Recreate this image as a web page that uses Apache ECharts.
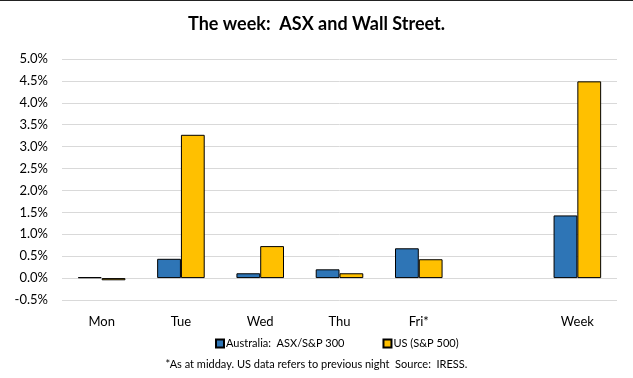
<!DOCTYPE html>
<html lang="en">
<head>
    <meta charset="UTF-8" />
    <title>The week: ASX and Wall Street</title>
    <script src="https://cdn.jsdelivr.net/npm/echarts@6/dist/echarts.min.js"></script>
    <style>
        html, body { margin: 0; padding: 0; background: #fff; }
    </style>
</head>
<body>
    <div id="chart" style="width: 633px; height: 378px;"></div>

    <script>
        // categories (blank slot between Fri* and Week)
        var days = ["Mon", "Tue", "Wed", "Thu", "Fri*", "", "Week"];
        // daily % change
        var asx = [0.02, 0.44, 0.11, 0.2, 0.68, null, 1.43];
        var us = [-0.05, 3.27, 0.73, 0.11, 0.43, null, 4.49];
        var yTicks = [-0.5, 5.0, 0.5];

        var font = "Lato, 'Liberation Sans', sans-serif";
        var chart = echarts.init(document.getElementById("chart"));

        var option = {
            animation: false,
            textStyle: { fontFamily: font },
            title: {
                text: "The week:  ASX and Wall Street.",
                left: "center",
                top: 10,
                textStyle: { fontSize: 18, fontWeight: "bold", color: "#000", fontFamily: font }
            },
            grid: { left: 62, right: 16, top: 59, bottom: 78 },
            legend: {
                bottom: 24,
                left: 210,
                icon: "rect",
                itemWidth: 8,
                itemHeight: 8,
                itemGap: 38,
                textStyle: { fontSize: 11, color: "#000", padding: [0, 0, 0, -3] },
                data: ["Australia:  ASX/S&P 300", "US (S&P 500)"]
            },
            graphic: [
                {
                    type: "text",
                    left: "center",
                    top: 359,
                    style: {
                        text: "*As at midday. US data refers to previous night  Source:  IRESS.",
                        fontSize: 11,
                        fill: "#000",
                        fontFamily: font
                    }
                },
                {
                    type: "rect",
                    shape: { x: 0, y: 0, width: 633, height: 1 },
                    style: { fill: "#222" }
                }
            ],
            xAxis: {
                type: "category",
                data: days,
                axisLine: { show: false },
                axisTick: { show: false },
                axisLabel: { fontSize: 13, color: "#000", margin: 15 }
            },
            yAxis: {
                type: "value",
                min: yTicks[0],
                max: yTicks[1],
                interval: yTicks[2],
                axisLine: { show: false },
                axisTick: { show: false },
                splitLine: { lineStyle: { color: "#d9d9d9", width: 1 } },
                axisLabel: {
                    fontSize: 13,
                    color: "#000",
                    margin: 14,
                    formatter: function (v) { return v.toFixed(1) + "%"; }
                }
            },
            series: [
                {
                    name: "Australia:  ASX/S&P 300",
                    type: "bar",
                    data: asx,
                    barGap: "0%",
                    barCategoryGap: "40%",
                    itemStyle: { color: "#2E75B6", borderColor: "#000", borderWidth: 1 }
                },
                {
                    name: "US (S&P 500)",
                    type: "bar",
                    data: us,
                    itemStyle: { color: "#FFC000", borderColor: "#000", borderWidth: 1 }
                }
            ]
        };
        chart.setOption(option);
    </script>
</body>
</html>
